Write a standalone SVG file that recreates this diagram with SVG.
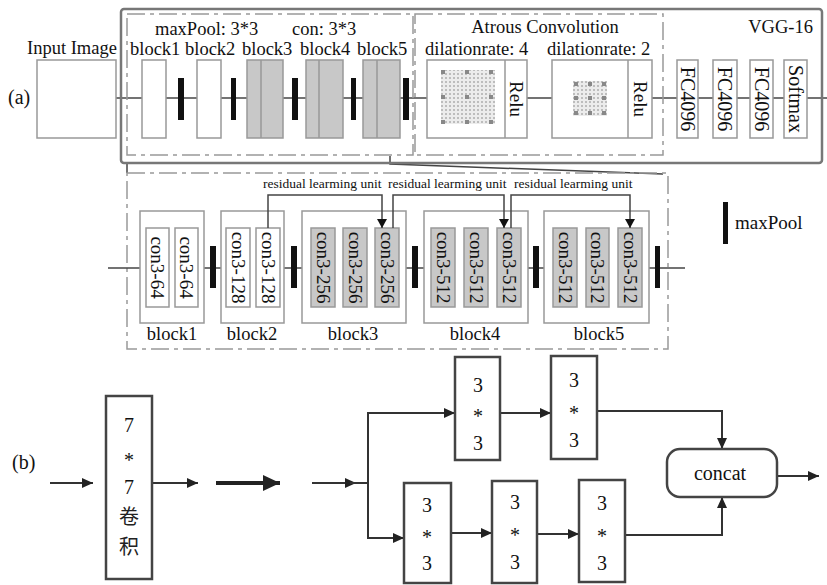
<svg xmlns="http://www.w3.org/2000/svg" width="827" height="585" viewBox="0 0 827 585">
<style>
.t{font-family:"Liberation Serif","Times New Roman",serif;fill:#111}
.cjk{font-family:"Liberation Serif","Noto Sans CJK SC",serif;fill:#222}
.box{fill:#fff;stroke:#999;stroke-width:1.5}
.gbox{fill:#c8c8c8;stroke:#999;stroke-width:1.5}
.pool{fill:#111}
.ln{stroke:#444;stroke-width:1.5;fill:none}
.dash{fill:none;stroke:#999;stroke-width:1.5;stroke-dasharray:18 5 4 5}
.bb{fill:#fff;stroke:#444;stroke-width:2.5}
.bl{stroke:#333;stroke-width:2;fill:none}
.dk{fill:#888}
</style>
<defs>
<pattern id="dots" width="4" height="4" patternUnits="userSpaceOnUse">
<rect width="4" height="4" fill="#ececec"/><rect x="1" y="1" width="2" height="2" fill="#bdbdbd"/>
</pattern>
<marker id="ah" markerUnits="userSpaceOnUse" markerWidth="12" markerHeight="10" refX="11" refY="5" orient="auto">
<path d="M0,0 L11,5 L0,10 z" fill="#222"/>
</marker>
<marker id="ahs" markerUnits="userSpaceOnUse" markerWidth="10" markerHeight="10" refX="9" refY="5" orient="auto">
<path d="M0,0 L9,5 L0,10 z" fill="#111"/>
</marker>
<marker id="ahb" markerUnits="userSpaceOnUse" markerWidth="18" markerHeight="16" refX="17" refY="8" orient="auto">
<path d="M0,0 L17,8 L0,16 z" fill="#222"/>
</marker>
</defs>

<!-- ===== (a) top row ===== -->
<text class="t" x="8" y="104" font-size="20">(a)</text>
<g id="connectors-top">
<line class="ln" x1="116" y1="98" x2="827" y2="98"/>
<polyline class="ln" points="390,156 390,164 663,174" stroke="#555"/>
<line class="ln" x1="127" y1="163" x2="127" y2="173" stroke="#888"/>
</g>
<g id="vgg16">
<rect x="121" y="9" width="701" height="154" rx="3" fill="none" stroke="#777" stroke-width="2.5"/>
<text class="t" x="813" y="33" font-size="18.5" text-anchor="end">VGG-16</text>
</g>
<g id="input-image">
<rect class="box" x="37" y="60" width="79" height="78"/>
<text class="t" x="27" y="54" font-size="18.5">Input Image</text>
</g>
<g id="vgg-blocks">
<rect class="dash" x="127" y="14" width="286" height="141"/>
<text class="t" x="155" y="35" font-size="18.5">maxPool: 3*3</text>
<text class="t" x="292" y="35" font-size="18.5">con: 3*3</text>
<text class="t" x="130" y="55" font-size="18.5">block1</text>
<text class="t" x="185" y="55" font-size="18.5">block2</text>
<text class="t" x="242" y="55" font-size="18.5">block3</text>
<text class="t" x="300" y="55" font-size="18.5">block4</text>
<text class="t" x="357" y="55" font-size="18.5">block5</text>
<rect class="box" x="142" y="60" width="24" height="78"/>
<rect class="pool" x="178" y="78" width="6" height="42"/>
<rect class="box" x="197" y="60" width="24" height="78"/>
<rect class="pool" x="231" y="78" width="5" height="42"/>
<rect class="gbox" x="247" y="60" width="36" height="78"/><line x1="261" y1="60" x2="261" y2="138" stroke="#999" stroke-width="1.5"/>
<rect class="pool" x="292" y="78" width="6" height="42"/>
<rect class="gbox" x="306" y="60" width="37" height="78"/><line x1="319" y1="60" x2="319" y2="138" stroke="#999" stroke-width="1.5"/>
<rect class="pool" x="351" y="78" width="5" height="42"/>
<rect class="gbox" x="363" y="60" width="37" height="78"/><line x1="377" y1="60" x2="377" y2="138" stroke="#999" stroke-width="1.5"/>
<rect class="pool" x="403" y="78" width="6" height="42"/>
</g>
<g id="atrous">
<rect class="dash" x="415" y="14" width="248" height="141"/>
<text class="t" x="545" y="33" font-size="18.5" text-anchor="middle">Atrous Convolution</text>
<text class="t" x="425" y="55" font-size="18.5">dilationrate: 4</text>
<text class="t" x="547" y="55" font-size="18.5">dilationrate: 2</text>
<rect class="box" x="427" y="60" width="100" height="78"/>
<line x1="505" y1="60" x2="505" y2="138" stroke="#999" stroke-width="1.5"/>
<rect x="441" y="70" width="54" height="54" fill="url(#dots)"/>
<g class="dk">
<rect x="441" y="70" width="4" height="4"/><rect x="465" y="70" width="4" height="4"/><rect x="489" y="70" width="4" height="4"/>
<rect x="441" y="95" width="4" height="4"/><rect x="465" y="95" width="4" height="4"/><rect x="489" y="95" width="4" height="4"/>
<rect x="441" y="120" width="4" height="4"/><rect x="465" y="120" width="4" height="4"/><rect x="489" y="120" width="4" height="4"/>
</g>
<text class="t" font-size="19" text-anchor="middle" dominant-baseline="central" transform="translate(516,99) rotate(90)">Relu</text>
<rect class="box" x="552" y="60" width="100" height="78"/>
<line x1="628" y1="60" x2="628" y2="138" stroke="#999" stroke-width="1.5"/>
<rect x="573" y="81" width="34" height="35" fill="url(#dots)"/>
<g class="dk">
<rect x="574" y="82" width="4" height="4"/><rect x="588" y="82" width="4" height="4"/><rect x="602" y="82" width="4" height="4"/>
<rect x="574" y="96" width="4" height="4"/><rect x="588" y="96" width="4" height="4"/><rect x="602" y="96" width="4" height="4"/>
<rect x="574" y="111" width="4" height="4"/><rect x="588" y="111" width="4" height="4"/><rect x="602" y="111" width="4" height="4"/>
</g>
<text class="t" font-size="19" text-anchor="middle" dominant-baseline="central" transform="translate(640,99) rotate(90)">Relu</text>
</g>
<g id="fc1"><rect class="box" x="677" y="60" width="21" height="78"/><text class="t" font-size="20" text-anchor="middle" dominant-baseline="central" transform="translate(687.5,99) rotate(90)">FC4096</text></g>
<g id="fc2"><rect class="box" x="713" y="60" width="24" height="78"/><text class="t" font-size="20" text-anchor="middle" dominant-baseline="central" transform="translate(725,99) rotate(90)">FC4096</text></g>
<g id="fc3"><rect class="box" x="750" y="60" width="23" height="78"/><text class="t" font-size="20" text-anchor="middle" dominant-baseline="central" transform="translate(761.5,99) rotate(90)">FC4096</text></g>
<g id="softmax"><rect class="box" x="784" y="60" width="23" height="78"/><text class="t" font-size="20" text-anchor="middle" dominant-baseline="central" transform="translate(795.5,99) rotate(90)">Softmax</text></g>

<!-- ===== middle expanded view ===== -->
<g id="expanded-frame">
<rect class="dash" x="127" y="173" width="541" height="176"/>
</g>
<g id="connector-mid-line">
<line class="ln" x1="108" y1="268" x2="685" y2="268"/>
</g>
<g id="residual-labels">
<text class="t" x="263" y="188" font-size="13.5">residual learming unit</text>
<text class="t" x="388" y="188" font-size="13.5">residual learming unit</text>
<text class="t" x="514" y="188" font-size="13.5">residual learming unit</text>
</g>
<g id="m-block1">
<rect class="box" x="140" y="211" width="64" height="112"/>
<rect class="box" x="146" y="228" width="23" height="79"/>
<text class="t" font-size="19" text-anchor="middle" dominant-baseline="central" transform="translate(157.5,267.5) rotate(90)">con3-64</text>
<rect class="box" x="175" y="228" width="23" height="79"/>
<text class="t" font-size="19" text-anchor="middle" dominant-baseline="central" transform="translate(186.5,267.5) rotate(90)">con3-64</text>
<text class="t" x="172" y="340" font-size="18.5" text-anchor="middle">block1</text>
</g>
<rect class="pool" x="210" y="246" width="6" height="42"/>
<g id="m-block2">
<rect class="box" x="221" y="211" width="63" height="112"/>
<rect class="box" x="226" y="228" width="24" height="79"/>
<text class="t" font-size="19" text-anchor="middle" dominant-baseline="central" transform="translate(238,267.5) rotate(90)">con3-128</text>
<rect class="box" x="256" y="228" width="24" height="79"/>
<text class="t" font-size="19" text-anchor="middle" dominant-baseline="central" transform="translate(268,267.5) rotate(90)">con3-128</text>
<text class="t" x="252" y="340" font-size="18.5" text-anchor="middle">block2</text>
</g>
<rect class="pool" x="291" y="246" width="6" height="42"/>
<g id="m-block3">
<rect class="box" x="302" y="211" width="104" height="112"/>
<rect class="gbox" x="311" y="228" width="24" height="79"/>
<text class="t" font-size="19" text-anchor="middle" dominant-baseline="central" transform="translate(323,267.5) rotate(90)">con3-256</text>
<rect class="gbox" x="343" y="228" width="24" height="79"/>
<text class="t" font-size="19" text-anchor="middle" dominant-baseline="central" transform="translate(355,267.5) rotate(90)">con3-256</text>
<rect class="gbox" x="375" y="228" width="24" height="79"/>
<text class="t" font-size="19" text-anchor="middle" dominant-baseline="central" transform="translate(387,267.5) rotate(90)">con3-256</text>
<text class="t" x="353" y="340" font-size="18.5" text-anchor="middle">block3</text>
</g>
<rect class="pool" x="412" y="246" width="6" height="42"/>
<g id="m-block4">
<rect class="box" x="424" y="211" width="104" height="112"/>
<rect class="gbox" x="431" y="228" width="24" height="79"/>
<text class="t" font-size="19" text-anchor="middle" dominant-baseline="central" transform="translate(443,267.5) rotate(90)">con3-512</text>
<rect class="gbox" x="464" y="228" width="24" height="79"/>
<text class="t" font-size="19" text-anchor="middle" dominant-baseline="central" transform="translate(476,267.5) rotate(90)">con3-512</text>
<rect class="gbox" x="497" y="228" width="24" height="79"/>
<text class="t" font-size="19" text-anchor="middle" dominant-baseline="central" transform="translate(509,267.5) rotate(90)">con3-512</text>
<text class="t" x="475" y="340" font-size="18.5" text-anchor="middle">block4</text>
</g>
<rect class="pool" x="533" y="246" width="6" height="42"/>
<g id="m-block5">
<rect class="box" x="544" y="211" width="105" height="112"/>
<rect class="gbox" x="553" y="228" width="24" height="79"/>
<text class="t" font-size="19" text-anchor="middle" dominant-baseline="central" transform="translate(565,267.5) rotate(90)">con3-512</text>
<rect class="gbox" x="586" y="228" width="23" height="79"/>
<text class="t" font-size="19" text-anchor="middle" dominant-baseline="central" transform="translate(597.5,267.5) rotate(90)">con3-512</text>
<rect class="gbox" x="618" y="228" width="24" height="79"/>
<text class="t" font-size="19" text-anchor="middle" dominant-baseline="central" transform="translate(630,267.5) rotate(90)">con3-512</text>
<text class="t" x="599" y="340" font-size="18.5" text-anchor="middle">block5</text>
</g>
<rect class="pool" x="655" y="246" width="5" height="42"/>
<g id="connectors-residual">
<path class="ln" stroke="#111" d="M268,228 V195 H382 V228" marker-end="url(#ahs)"/>
<path class="ln" stroke="#111" d="M393,228 V195 H504 V228" marker-end="url(#ahs)"/>
<path class="ln" stroke="#111" d="M511,228 V195 H630 V228" marker-end="url(#ahs)"/>
</g>
<g id="legend">
<rect class="pool" x="723" y="202" width="5" height="42"/>
<text class="t" x="735" y="229" font-size="19">maxPool</text>
</g>

<!-- ===== (b) ===== -->
<text class="t" x="12" y="469" font-size="20">(b)</text>
<g id="connectors-b">
<path class="bl" d="M50,483 H93" marker-end="url(#ah)"/>
<path class="bl" d="M152,483 H198" marker-end="url(#ah)"/>
<path stroke="#222" stroke-width="4" fill="none" d="M216,483 H280" marker-end="url(#ahb)"/>
<path class="bl" d="M312,483 H356" marker-end="url(#ah)"/>
<path class="bl" d="M350,483 H368"/>
<path class="bl" d="M368,413 V538"/>
<path class="bl" d="M367,413 H455" marker-end="url(#ah)"/>
<path class="bl" d="M367,538 H404" marker-end="url(#ah)"/>
<path class="bl" d="M500,413 H551" marker-end="url(#ah)"/>
<path class="bl" d="M597,411 H722 V449" marker-end="url(#ah)"/>
<path class="bl" d="M451,533 H492" marker-end="url(#ah)"/>
<path class="bl" d="M537,534 H579" marker-end="url(#ah)"/>
<path class="bl" d="M625,535 H722 V497" marker-end="url(#ah)"/>
<path class="bl" d="M777,476 H819" marker-end="url(#ah)"/>
</g>
<g id="conv7">
<rect class="bb" x="106" y="396" width="46" height="183"/>
<text class="t" x="129" y="432" font-size="20" text-anchor="middle">7</text>
<text class="t" x="129" y="467" font-size="20" text-anchor="middle">*</text>
<text class="t" x="129" y="494" font-size="20" text-anchor="middle">7</text>
<text class="cjk" x="129" y="524" font-size="20" text-anchor="middle">卷</text>
<text class="cjk" x="129" y="554" font-size="20" text-anchor="middle">积</text>
</g>
<g id="t1">
<rect class="bb" x="455" y="357" width="45" height="103"/>
<text class="t" x="478" y="392" font-size="20" text-anchor="middle">3</text>
<text class="t" x="478" y="423" font-size="20" text-anchor="middle">*</text>
<text class="t" x="478" y="450" font-size="20" text-anchor="middle">3</text>
</g>
<g id="t2">
<rect class="bb" x="551" y="356" width="46" height="103"/>
<text class="t" x="574" y="387" font-size="20" text-anchor="middle">3</text>
<text class="t" x="574" y="420" font-size="20" text-anchor="middle">*</text>
<text class="t" x="574" y="447" font-size="20" text-anchor="middle">3</text>
</g>
<g id="b1">
<rect class="bb" x="404" y="483" width="47" height="100"/>
<text class="t" x="427" y="512" font-size="20" text-anchor="middle">3</text>
<text class="t" x="427" y="544" font-size="20" text-anchor="middle">*</text>
<text class="t" x="427" y="570" font-size="20" text-anchor="middle">3</text>
</g>
<g id="b2">
<rect class="bb" x="492" y="481" width="45" height="102"/>
<text class="t" x="515" y="509" font-size="20" text-anchor="middle">3</text>
<text class="t" x="515" y="542" font-size="20" text-anchor="middle">*</text>
<text class="t" x="515" y="569" font-size="20" text-anchor="middle">3</text>
</g>
<g id="b3">
<rect class="bb" x="579" y="480" width="46" height="102"/>
<text class="t" x="602" y="510" font-size="20" text-anchor="middle">3</text>
<text class="t" x="602" y="543" font-size="20" text-anchor="middle">*</text>
<text class="t" x="602" y="570" font-size="20" text-anchor="middle">3</text>
</g>
<g id="concat">
<rect class="bb" x="667" y="449" width="110" height="48" rx="13"/>
<text class="t" x="720" y="480" font-size="20" text-anchor="middle">concat</text>
</g>
</svg>
